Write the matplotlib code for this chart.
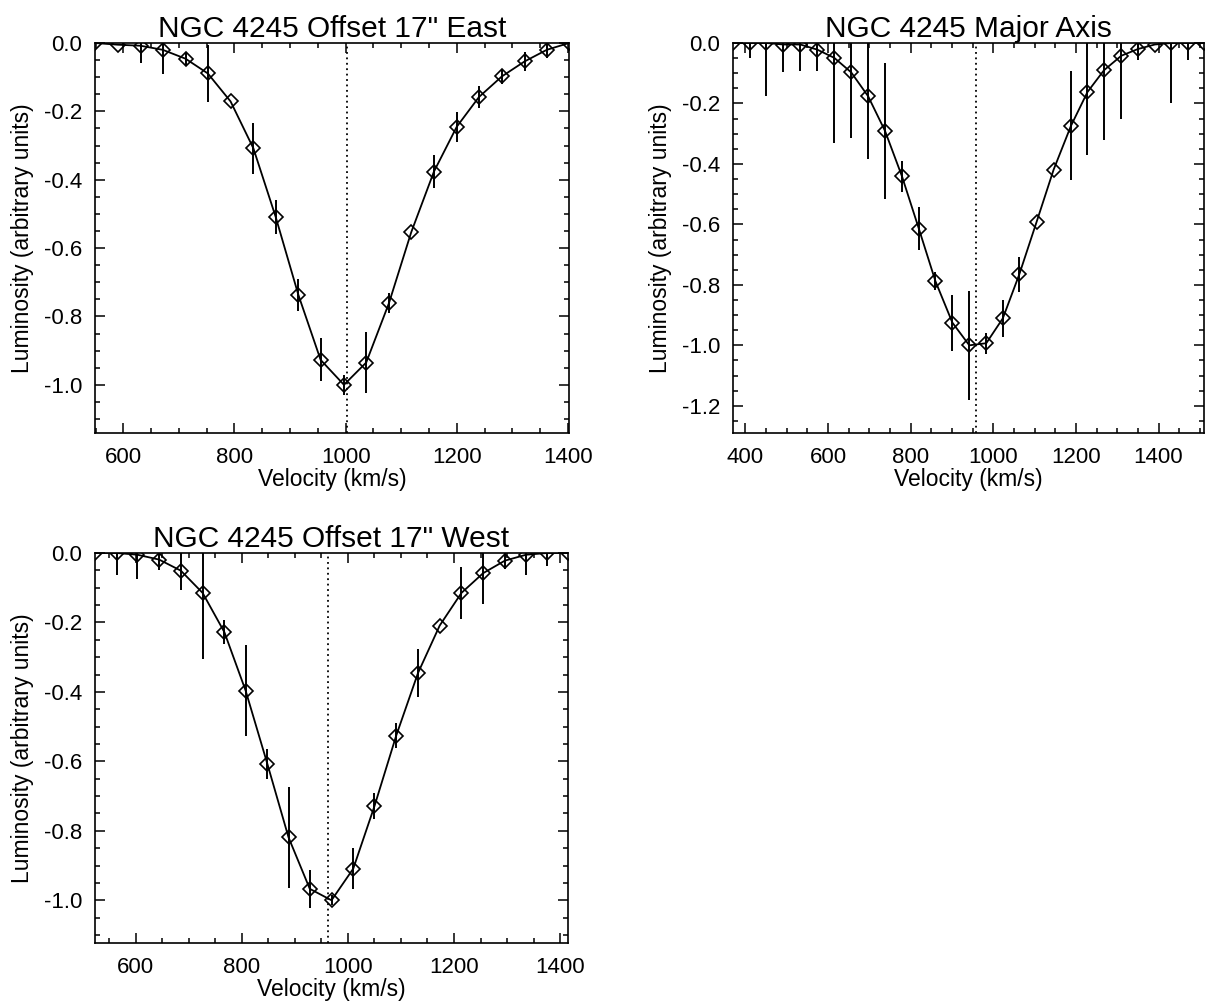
import matplotlib
matplotlib.use("Agg")
import matplotlib.pyplot as plt
from matplotlib.ticker import MultipleLocator, FormatStrFormatter

plt.rcParams['font.family'] = ['Liberation Sans', 'DejaVu Sans']
plt.rcParams['axes.unicode_minus'] = False

# NGC 4245 Offset 17" East
vel_east = [549, 590, 631, 671, 712, 752, 793, 834, 874, 915, 955, 997, 1037,
            1078, 1118, 1159, 1200, 1240, 1281, 1322, 1362, 1402]
lum_east = [0.0, -0.005, -0.008, -0.02, -0.046, -0.089, -0.171, -0.308, -0.508,
            -0.737, -0.927, -1.0, -0.935, -0.761, -0.554, -0.376, -0.245, -0.158,
            -0.098, -0.054, -0.02, 0.0]
err_east = [0.0, 0.0, 0.05, 0.07, 0.02, 0.083, 0.0, 0.074, 0.05, 0.048, 0.063,
            0.03, 0.09, 0.03, 0.0, 0.047, 0.044, 0.032, 0.022, 0.027, 0.024, 0.0]
vsys_east = 1003

# NGC 4245 Major Axis
vel_major = [370, 410, 451, 492, 533, 574, 615, 656, 697, 738, 779, 820, 860,
             901, 942, 983, 1023, 1063, 1105, 1146, 1188, 1228, 1268, 1310,
             1350, 1391, 1431, 1471, 1510]
lum_major = [0.0, 0.0, 0.0, -0.005, -0.005, -0.022, -0.049, -0.097, -0.176,
             -0.291, -0.441, -0.615, -0.788, -0.925, -1.0, -0.993, -0.911,
             -0.765, -0.591, -0.419, -0.274, -0.162, -0.09, -0.042, -0.02,
             -0.005, 0.0, 0.0, 0.0]
err_major = [0.0, 0.05, 0.175, 0.09, 0.088, 0.07, 0.283, 0.216, 0.209, 0.225,
             0.052, 0.071, 0.03, 0.093, 0.18, 0.035, 0.062, 0.058, 0.0, 0.0,
             0.18, 0.21, 0.23, 0.21, 0.037, 0.0, 0.2, 0.057, 0.0]
vsys_major = 959

# NGC 4245 Offset 17" West
vel_west = [523, 564, 603, 644, 685, 726, 767, 807, 848, 888, 928, 969, 1010,
            1050, 1091, 1132, 1173, 1214, 1255, 1296, 1336, 1376, 1415]
lum_west = [0.0, 0.0, -0.005, -0.019, -0.051, -0.115, -0.228, -0.396, -0.607,
            -0.819, -0.967, -1.0, -0.909, -0.729, -0.526, -0.346, -0.209,
            -0.115, -0.058, -0.022, -0.005, 0.0, 0.0]
err_west = [0.0, 0.062, 0.07, 0.03, 0.055, 0.19, 0.035, 0.132, 0.044, 0.146,
            0.055, 0.015, 0.059, 0.038, 0.036, 0.07, 0.0, 0.074, 0.09, 0.024,
            0.058, 0.038, 0.0]
vsys_west = 963

panels = [
    ('NGC 4245 Offset 17" East', vel_east, lum_east, err_east, vsys_east, -1.141,
     [95, 43, 569, 433]),
    ('NGC 4245 Major Axis', vel_major, lum_major, err_major, vsys_major, -1.29,
     [733, 43, 1204, 433]),
    ('NGC 4245 Offset 17" West', vel_west, lum_west, err_west, vsys_west, -1.123,
     [95, 553, 568, 943]),
]

W, H = 1206, 1007
fig = plt.figure(figsize=(W / 100, H / 100), dpi=100)

for title, vel, lum, err, vsys, ymin, box in panels:
    x0, y0, x1, y1 = box
    ax = fig.add_axes([x0 / W, 1 - y1 / H, (x1 - x0) / W, (y1 - y0) / H])
    ax.plot(vel, lum, '-', color='k', lw=1.3)
    ax.plot(vel, lum, 'D', ms=7, mfc='none', mec='k', mew=1.2)
    ax.errorbar(vel, lum, yerr=err, fmt='none', ecolor='k', elinewidth=1.4, capsize=0)
    ax.axvline(vsys, color='k', ls=(0, (1, 2)), lw=1.3)

    ax.set_xlim(vel[0], vel[-1])
    ax.set_ylim(ymin, 0)
    ax.xaxis.set_major_locator(MultipleLocator(200))
    ax.xaxis.set_minor_locator(MultipleLocator(50))
    ax.yaxis.set_major_locator(MultipleLocator(0.2))
    ax.yaxis.set_minor_locator(MultipleLocator(0.05))
    ax.yaxis.set_major_formatter(FormatStrFormatter('%.1f'))
    ax.tick_params(which='both', direction='in', top=True, right=True,
                   labelsize=16, width=1.1)
    ax.tick_params(which='major', length=7)
    ax.tick_params(which='minor', length=3.8)
    ax.tick_params(axis='x', which='major', pad=10)
    ax.tick_params(axis='y', which='major', pad=9)
    for s in ax.spines.values():
        s.set_linewidth(1.2)

    ax.set_title(title, fontsize=21.5, pad=3)
    ax.set_xlabel('Velocity (km/s)', fontsize=16.5, labelpad=0)
    ax.set_ylabel('Luminosity (arbitrary units)', fontsize=16.5, labelpad=7)

fig.savefig('out.png', dpi=100)
